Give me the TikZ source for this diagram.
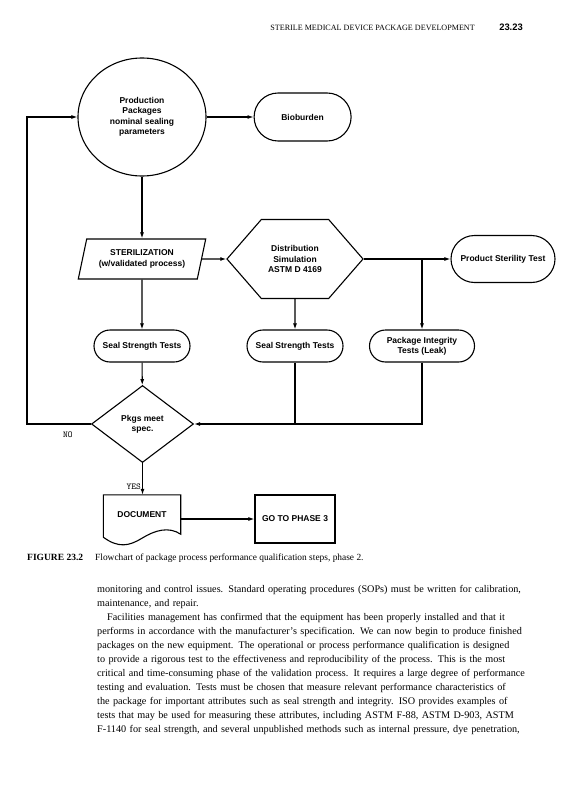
\documentclass[tikz,border=0pt]{standalone}
\usepackage{fontspec}
\setmainfont{Liberation Serif}
\setsansfont{Liberation Sans}
\usepackage{tikz}
\usetikzlibrary{arrows.meta,positioning,calc,shapes.geometric,shapes.misc,shapes.symbols}
\tikzset{
  lbl/.style={font=\sffamily\bfseries\fontsize{8.5}{10.4}\selectfont, align=center, inner sep=0pt},
  oval/.style={rounded rectangle, draw, line width=1.1pt, lbl, minimum width=#1, minimum height=32},
  oval/.default=96,
  shp/.style={draw, line width=1.1pt, lbl},
  yesno/.style={font=\ttfamily\fontsize{9}{9}\selectfont, inner sep=0pt},
  arr/.style={-{Latex[length=6pt,width=4pt]}, line width=1.1pt},
  conn/.style={line width=1.1pt},
}
\newcommand\bodyline[1]{\makebox[425pt][s]{#1}\par}

\begin{document}
\begin{tikzpicture}[x=1pt,y=-1pt]
  \useasboundingbox[fill=white] (0,0) rectangle (581,800);
  % running head
  \node[anchor=base east, inner sep=0pt, font=\fontsize{8.1}{9}\selectfont] (hdr) at (475,31) {STERILE MEDICAL DEVICE PACKAGE DEVELOPMENT};
  \node[anchor=base east, inner sep=0pt, font=\sffamily\bfseries\fontsize{9.4}{9}\selectfont] (pg) at (523,31) {23.23};

  % flowchart
  \node[shp, ellipse, minimum width=128, minimum height=118] (prod) at (142,117) {Production\\Packages\\nominal sealing\\parameters};
  \node[oval=97, minimum height=48, right=47pt of prod] (bio) {Bioburden};
  \node[shp, trapezium, trapezium left angle=70, trapezium right angle=110, trapezium stretches=true,
        minimum width=128, minimum height=40] (ster) at (142,259) {STERILIZATION\\(w/validated process)};
  \node[shp, signal, signal to=west and east, signal pointer angle=98,
        minimum width=136, minimum height=79] (dist) at (295,259) {Distribution\\Simulation\\ASTM D 4169};
  \node[oval=104, minimum height=47] (pst) at (503,259) {Product Sterility Test};
  \node[oval] (ss1) at (142,346) {Seal Strength Tests};
  \node[oval] (ss2) at (295,346) {Seal Strength Tests};
  \node[oval=105] (pit) at (422,346) {Package Integrity\\Tests (Leak)};
  \node[shp, diamond, minimum width=102, minimum height=77] (spec) at (142.5,424) {Pkgs meet\\spec.};
  \node[lbl, minimum width=77, minimum height=40] (doc) at (142,515) {DOCUMENT};
  \node[shp, rectangle, minimum width=80, minimum height=48] (ph3) at (295,519) {GO TO PHASE 3};
  \draw[conn] (doc.north west) -- ($(doc.south west)+(0,2)$)
    .. controls +(15,11) and +(-13,8) .. ($(doc.south)+(0,3)$)
    .. controls +(13,-8) and +(-12,-8) .. ($(doc.south east)+(0,-1)$) -- (doc.north east) -- cycle;
  \coordinate (br) at (pit.north |- dist.east);
  \coordinate (fb) at (27,424);

  \draw[arr] (prod) -- (bio);
  \draw[arr] (prod) -- (ster);
  \draw[arr] (ster) -- (dist);
  \draw[arr] (dist.east) -- (pst);
  \draw[arr] (br) -- (pit);
  \draw[arr] (dist) -- (ss2);
  \draw[arr] (ster) -- (ss1);
  \draw[arr] (ss1) -- (spec);
  \draw[arr] (ss2.south) |- (spec.east);
  \draw[conn] (pit.south) |- (ss2.south |- spec.east);
  \draw[arr] (spec.west) -- (fb) |- (prod.west);
  \draw[arr] (spec.south) -- (doc.north -| spec.south);
  \draw[arr] (doc.east |- ph3.west) -- (ph3.west);
  \node[yesno, anchor=base west] (no) at (63,437) {NO};
  \node[yesno, anchor=base east] (yes) at (141,489) {YES};

  % caption and text
  \node[anchor=base west, inner sep=0pt, font=\bfseries\fontsize{9.5}{10}\selectfont] (fig) at (27,560) {FIGURE 23.2};
  \node[anchor=base west, inner sep=0pt, font=\fontsize{9.4}{10}\selectfont] (cap) at (95,560) {Flowchart of package process performance qualification steps, phase 2.};
  \node[anchor=north west, inner sep=0pt, text width=425pt, font=\fontsize{10.2}{14}\selectfont] (body) at (97,585) {%
    \bodyline{monitoring and control issues. Standard operating procedures (SOPs) must be written for calibration,}
    maintenance, and repair.\par
    \bodyline{\hspace*{10pt}Facilities management has confirmed that the equipment has been properly installed and that it}
    \bodyline{performs in accordance with the manufacturer's specification. We can now begin to produce finished}
    \bodyline{packages on the new equipment. The operational or process performance qualification is designed}
    \bodyline{to provide a rigorous test to the effectiveness and reproducibility of the process. This is the most}
    \bodyline{critical and time-consuming phase of the validation process. It requires a large degree of performance}
    \bodyline{testing and evaluation. Tests must be chosen that measure relevant performance characteristics of}
    \bodyline{the package for important attributes such as seal strength and integrity. ISO provides examples of}
    \bodyline{tests that may be used for measuring these attributes, including ASTM F-88, ASTM D-903, ASTM}
    \bodyline{F-1140 for seal strength, and several unpublished methods such as internal pressure, dye penetration,}};
\end{tikzpicture}
\end{document}
